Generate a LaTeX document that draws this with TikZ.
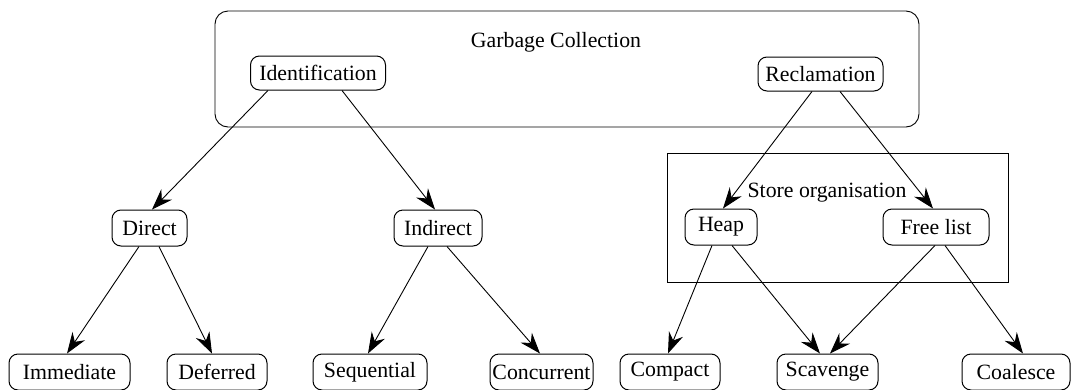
\documentclass[tikz,border=0pt]{standalone}
\usepackage{fontspec}
\setmainfont{Liberation Serif}
\usetikzlibrary{arrows.meta}
\begin{document}
\begin{tikzpicture}[x=1pt,y=-1pt,
  every node/.style={font=\fontsize{21.8}{25}\selectfont},
  item/.style={draw, rounded corners=9pt, line width=1pt, minimum height=36pt, inner sep=0pt},
  group/.style={draw, line width=0.9pt, inner sep=0pt},
  title/.style={inner sep=0pt},
  link/.style={line width=0.9pt, -{Stealth[length=21pt,width=15pt,inset=7pt]}}]
\useasboundingbox (0,0) rectangle (1072,389);

% enclosing groups
\node[group, rounded corners=13pt, minimum width=704pt, minimum height=116pt] (gcbox) at (567,69) {};
\node[title] (gctitle) at (556,42) {Garbage Collection};
\node[group, minimum width=341pt, minimum height=129pt] (storebox) at (837.5,217.5) {};
\node[title] (storetitle) at (827,193) {Store organisation};

% top level
\node[item, minimum width=135pt, minimum height=34pt] (ident) at (318,73) {Identification};
\node[item, minimum width=125pt, minimum height=34pt] (reclaim) at (820.5,74) {Reclamation};

% second level
\node[item, minimum width=75pt] (direct) at (149.5,228) {Direct};
\node[item, minimum width=88pt] (indirect) at (438,228) {Indirect};
\node[item, minimum width=72pt] (heap) at (721,227) {Heap};
\node[item, minimum width=106pt] (freelist) at (936,227) {Free list};

% leaves
\node[item, minimum width=121pt] (immediate) at (69.5,372) {Immediate};
\node[item, minimum width=100pt] (deferred) at (217,372) {Deferred};
\node[item, minimum width=114pt] (sequential) at (370,372) {Sequential};
\node[item, minimum width=103pt] (concurrent) at (541.5,372) {Concurrent};
\node[item, minimum width=100pt] (compact) at (670,372) {Compact};
\node[item, minimum width=101pt] (scavenge) at (827.5,372) {Scavenge};
\node[item, minimum width=108pt] (coalesce) at (1016,372) {Coalesce};

% connectors
\draw[link] ([xshift=-50pt]ident.south) -- ([xshift=2.5pt]direct.north);
\draw[link] ([xshift=24pt]ident.south) -- ([xshift=-3pt]indirect.north);
\draw[link] ([xshift=-8.5pt]reclaim.south) -- ([xshift=2pt]heap.north);
\draw[link] ([xshift=19.5pt]reclaim.south) -- ([xshift=-3pt]freelist.north);
\draw[link] ([xshift=-10.5pt]direct.south) -- ([xshift=-2.5pt]immediate.north);
\draw[link] ([xshift=9.5pt]direct.south) -- ([xshift=-5pt]deferred.north);
\draw[link] ([xshift=-10pt]indirect.south) -- ([xshift=-2pt]sequential.north);
\draw[link] ([xshift=9pt]indirect.south) -- ([xshift=-1.5pt]concurrent.north);
\draw[link] ([xshift=-9pt]heap.south) -- ([xshift=-2pt]compact.north);
\draw[link] ([xshift=11pt]heap.south) -- ([xshift=-7.5pt]scavenge.north);
\draw[link] ([xshift=-1pt]freelist.south) -- ([xshift=2.5pt]scavenge.north);
\draw[link] ([xshift=9pt]freelist.south) -- ([xshift=7pt]coalesce.north);
\end{tikzpicture}
\end{document}
